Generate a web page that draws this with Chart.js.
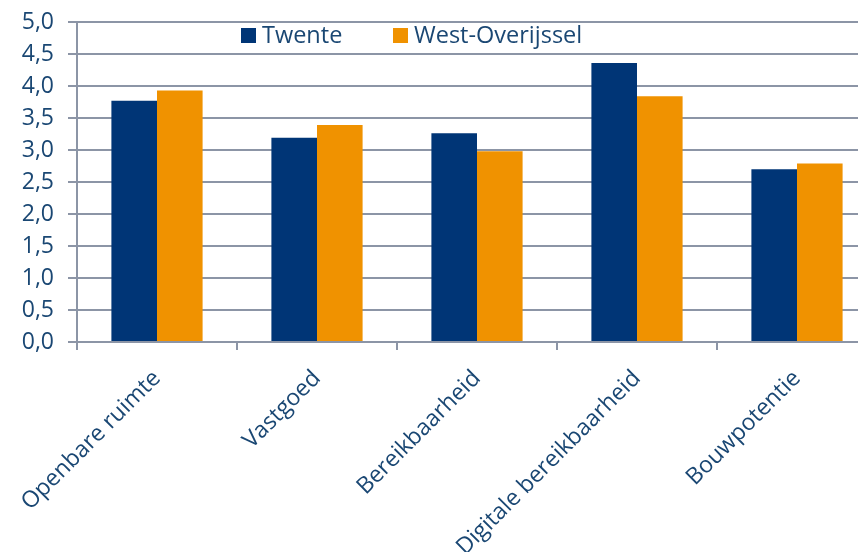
<!DOCTYPE html>
<html lang="nl">
<head>
    <meta charset="UTF-8">
    <title>Twente en West-Overijssel</title>
    <script src="https://cdn.jsdelivr.net/npm/chart.js"></script>
    <style>
        html, body {
            margin: 0;
            padding: 0;
            background: #fff;
            overflow: hidden;
        }
        /* iets breder dan het venster: de laatste categorie loopt rechts door */
        #wrap {
            width: 878px;
            height: 552px;
            position: relative;
        }
    </style>
</head>
<body>
    <div id="wrap"><canvas id="grafiek"></canvas></div>

    <script>
        // gegevens
        const categorieen = ["Openbare ruimte", "Vastgoed", "Bereikbaarheid", "Digitale bereikbaarheid", "Bouwpotentie"];
        const twente = [3.77, 3.19, 3.26, 4.36, 2.70];
        const westOverijssel = [3.93, 3.39, 2.98, 3.84, 2.79];
        const yTicks = [0, 0.5, 1, 1.5, 2, 2.5, 3, 3.5, 4, 4.5, 5];

        const tekstKleur = "#1a4773";
        const lijnKleur = "#8c95a6";
        const lettertype = "'Open Sans', 'Noto Sans', sans-serif";

        // legenda binnen het plotvlak, bovenaan
        const legendaPlugin = {
            id: "legendaBinnen",
            afterDraw(chart) {
                const ctx = chart.ctx;
                const posities = [241, 393];
                ctx.save();
                ctx.font = "23.5px " + lettertype;
                ctx.textBaseline = "middle";
                chart.data.datasets.forEach((ds, i) => {
                    const x = posities[i];
                    ctx.fillStyle = ds.backgroundColor;
                    ctx.fillRect(x, 28, 15, 15);
                    ctx.fillStyle = tekstKleur;
                    ctx.fillText(ds.label, x + 21, 36);
                });
                ctx.restore();
            }
        };

        new Chart(document.getElementById("grafiek"), {
            type: "bar",
            data: {
                labels: categorieen,
                datasets: [
                    {
                        label: "Twente",
                        data: twente,
                        backgroundColor: "#003576",
                        categoryPercentage: 0.57,
                        barPercentage: 1
                    },
                    {
                        label: "West-Overijssel",
                        data: westOverijssel,
                        backgroundColor: "#f09200",
                        categoryPercentage: 0.57,
                        barPercentage: 1
                    }
                ]
            },
            options: {
                responsive: true,
                maintainAspectRatio: false,
                animation: false,
                layout: { padding: { top: 22, right: 1, left: 0, bottom: 0 } },
                plugins: {
                    legend: { display: false },
                    tooltip: { enabled: false }
                },
                scales: {
                    x: {
                        grid: {
                            offset: true,
                            drawOnChartArea: false,
                            color: lijnKleur,
                            lineWidth: 2,
                            tickLength: 8
                        },
                        border: { color: lijnKleur, width: 2 },
                        ticks: {
                            color: tekstKleur,
                            font: { family: lettertype, size: 23 },
                            minRotation: 45,
                            maxRotation: 45,
                            padding: 15,
                            autoSkip: false
                        },
                        afterFit(scale) { scale.height = 210; }
                    },
                    y: {
                        min: 0,
                        max: 5,
                        afterBuildTicks(scale) {
                            scale.ticks = yTicks.map(v => ({ value: v }));
                        },
                        grid: {
                            color: lijnKleur,
                            lineWidth: 2,
                            tickLength: 9
                        },
                        border: { color: lijnKleur, width: 2 },
                        ticks: {
                            color: tekstKleur,
                            font: { family: lettertype, size: 23 },
                            padding: 14,
                            callback: v => v.toFixed(1).replace(".", ",")
                        },
                        afterFit(scale) {
                            scale.width = 77;
                            // bovenmarge alleen via layout.padding
                            scale.paddingTop = 0;
                        }
                    }
                }
            },
            plugins: [legendaPlugin]
        });
    </script>
</body>
</html>
